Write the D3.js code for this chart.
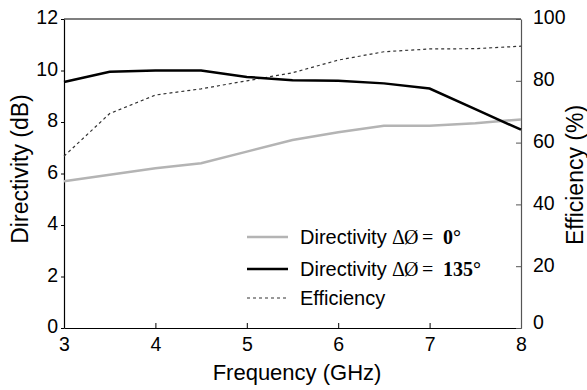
<!DOCTYPE html>
<html>
<head>
<meta charset="utf-8">
<script src="https://cdn.jsdelivr.net/npm/d3@7"></script>
<style>
  body { margin: 0; background: #fff; }
  svg { display: block; font-family: "Liberation Sans", Arial, sans-serif; }
</style>
</head>
<body>
<svg id="chart"></svg>
<script>
// data
var freq = [3, 3.5, 4, 4.5, 5, 5.5, 6, 6.5, 7, 7.5, 8];
var dir0 = [5.7, 5.95, 6.2, 6.4, 6.85, 7.3, 7.6, 7.85, 7.85, 7.95, 8.1];
var dir135 = [9.55, 9.95, 10.0, 10.0, 9.75, 9.62, 9.6, 9.5, 9.3, 8.5, 7.7];
var efficiency = [55.6, 69.4, 75.4, 77.4, 80, 82.6, 86.7, 89.4, 90.3, 90.4, 91.2];
var xTicks = [3, 4, 5, 6, 7, 8];
var yTicks = [0, 2, 4, 6, 8, 10, 12];
var y2Ticks = [0, 20, 40, 60, 80, 100];

var dimensions = {
    width: 587,
    height: 390,
    margin: { top: 19, right: 66, bottom: 62, left: 64 }
};

var svg = d3.select("#chart")
    .attr("width", dimensions.width)
    .attr("height", dimensions.height);

var x = d3.scaleLinear()
    .domain([3, 8])
    .range([dimensions.margin.left, dimensions.width - dimensions.margin.right]);

var y = d3.scaleLinear()
    .domain([0, 12])
    .range([dimensions.height - dimensions.margin.bottom, dimensions.margin.top]);

var y2 = d3.scaleLinear()
    .domain([0, 100])
    .range([dimensions.height - dimensions.margin.bottom, dimensions.margin.top]);

var x0 = x.range()[0], x1 = x.range()[1];
var yBottom = y.range()[0], yTop = y.range()[1];

// top border
svg.append("line")
    .attr("x1", x0).attr("x2", x1)
    .attr("y1", yTop).attr("y2", yTop)
    .attr("stroke", "#000").attr("stroke-width", 1.2);

// bottom axis, ticks pointing inward
var xAxis = svg.append("g")
    .attr("transform", `translate(0, ${yBottom})`)
    .call(d3.axisBottom(x).tickValues(xTicks).tickFormat(d3.format("d"))
        .tickSizeInner(-5).tickSizeOuter(0).tickPadding(9));

// left axis, small outward ticks
var yAxis = svg.append("g")
    .attr("transform", `translate(${x0}, 0)`)
    .call(d3.axisLeft(y).tickValues(yTicks).tickSizeInner(3).tickSizeOuter(0).tickPadding(3));

// right axis, ticks pointing inward
var y2Axis = svg.append("g")
    .attr("transform", `translate(${x1}, 0)`)
    .call(d3.axisRight(y2).tickValues(y2Ticks).tickSizeInner(-5).tickSizeOuter(0).tickPadding(12));

[xAxis, yAxis, y2Axis].forEach(function (g) {
    g.selectAll("text")
        .attr("fill", "#000")
        .style("font-size", "19.5px")
        .style("font-family", "'Liberation Sans', Arial, sans-serif");
    g.select(".domain").attr("stroke", "#000").attr("stroke-width", 1.2);
    g.selectAll(".tick line").attr("stroke", "#000");
});
y2Axis.select(".domain").attr("stroke", "#555");
y2Axis.selectAll(".tick line").attr("stroke", "#555");
yAxis.selectAll("text").attr("dy", "0.25em");
y2Axis.selectAll("text").attr("dy", "0.25em");
y2Axis.selectAll(".tick").filter(d => d === 0).select("text").attr("dy", "0.05em");

// axis titles
svg.append("text")
    .attr("x", 297)
    .attr("y", 380)
    .attr("text-anchor", "middle")
    .style("font-size", "22px")
    .text("Frequency (GHz)");

svg.append("text")
    .attr("transform", "translate(28, 169) rotate(-90)")
    .attr("text-anchor", "middle")
    .style("font-size", "23px")
    .text("Directivity (dB)");

svg.append("text")
    .attr("transform", "translate(583, 175) rotate(-90)")
    .attr("text-anchor", "middle")
    .style("font-size", "23px")
    .text("Efficiency (%)");

// series
var line = d3.line()
    .x((d, i) => x(freq[i]))
    .y(d => y(d));

var line2 = d3.line()
    .x((d, i) => x(freq[i]))
    .y(d => y2(d));

svg.append("path")
    .datum(efficiency)
    .attr("d", line2)
    .attr("fill", "none")
    .attr("stroke", "#333")
    .attr("stroke-width", 1.2)
    .attr("stroke-dasharray", "3,3");

svg.append("path")
    .datum(dir0)
    .attr("d", line)
    .attr("fill", "none")
    .attr("stroke", "#b4b4b4")
    .attr("stroke-width", 2.5);

svg.append("path")
    .datum(dir135)
    .attr("d", line)
    .attr("fill", "none")
    .attr("stroke", "#000")
    .attr("stroke-width", 2.5);

// legend
var legendItems = [
    { label: "Directivity", num: "0°", color: "#b4b4b4", width: 2.5, dash: null, y: 237 },
    { label: "Directivity", num: "135°", color: "#000", width: 2.5, dash: null, y: 269 },
    { label: "Efficiency", num: null, color: "#333", width: 1.2, dash: "3,3", y: 298 }
];

var legend = svg.selectAll(".legend")
    .data(legendItems)
    .enter()
    .append("g")
    .attr("class", "legend")
    .attr("transform", d => `translate(0, ${d.y})`);

legend.append("line")
    .attr("x1", 247).attr("x2", 288)
    .attr("y1", 0).attr("y2", 0)
    .attr("stroke", d => d.color)
    .attr("stroke-width", d => d.width)
    .attr("stroke-dasharray", d => d.dash);

legend.append("text")
    .attr("x", 300)
    .attr("y", 7)
    .style("font-size", "20px")
    .text(d => d.label);

// the math part: ΔØ = value
var mathText = legend.filter(d => d.num)
    .append("text")
    .attr("y", 7)
    .style("font-family", "'Liberation Serif', 'DejaVu Serif', serif")
    .style("font-size", "20px");

mathText.append("tspan").attr("x", 392).text("Δ");
mathText.append("tspan").attr("x", 404).text("Ø");
mathText.append("tspan").attr("x", 422).text("=");
mathText.append("tspan").attr("x", 443).style("font-weight", "bold").text(d => d.num);
</script>
</body>
</html>
